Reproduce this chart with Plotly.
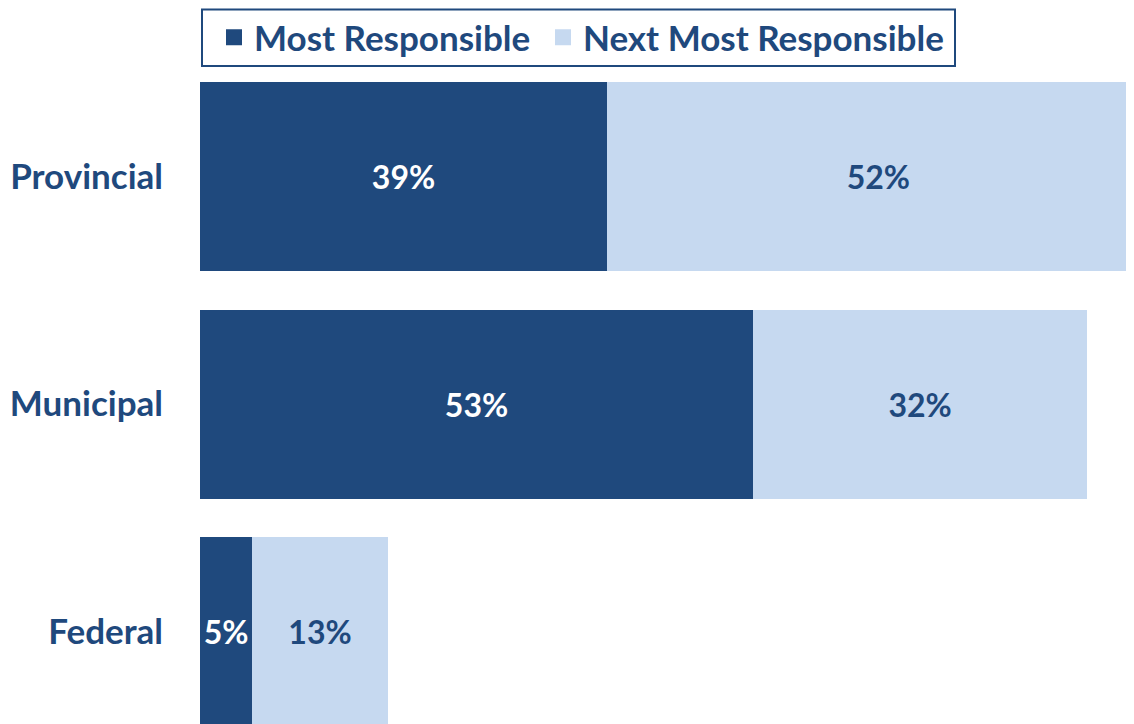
import plotly.graph_objects as go

categories = ["Federal", "Municipal", "Provincial"]
most_responsible = [5, 53, 39]
next_most_responsible = [13, 32, 52]
series_names = ["Most Responsible", "Next Most Responsible"]

DARK = "#1F497D"
LIGHT = "#C6D9F0"
FONT = "Lato"

# the page body has an 8px margin, so the figure is laid out 8px smaller
W, H = 1126, 716

fig = go.Figure()
fig.add_trace(go.Bar(
    y=categories, x=most_responsible, orientation="h", name=series_names[0],
    marker=dict(color=DARK, line=dict(width=0)),
    text=[f"{v}%" for v in most_responsible], textposition="inside",
    insidetextanchor="middle", constraintext="none",
    textfont=dict(family=FONT, size=32, color="white", weight="bold"),
    showlegend=False, hoverinfo="skip",
))
fig.add_trace(go.Bar(
    y=categories, x=next_most_responsible, orientation="h", name=series_names[1],
    marker=dict(color=LIGHT, line=dict(width=0)),
    text=[f"{v}%" for v in next_most_responsible], textposition="inside",
    insidetextanchor="middle", constraintext="none",
    textfont=dict(family=FONT, size=32, color=DARK, weight="bold"),
    showlegend=False, hoverinfo="skip",
))
# legend entries (one per legend so the spacing can be matched)
for name, col, lg in zip(series_names, [DARK, LIGHT], ["legend", "legend2"]):
    fig.add_trace(go.Scatter(
        x=[None], y=[None], mode="markers", name=name,
        marker=dict(symbol="square", size=20, color=col),
        showlegend=True, legend=lg,
    ))

legend_style = dict(
    orientation="h", xref="container", yref="container",
    xanchor="left", y=1.0, yanchor="top",
    borderwidth=0, bgcolor="rgba(0,0,0,0)",
    font=dict(family=FONT, size=35, color=DARK, weight="bold"),
    itemsizing="trace",
)

fig.update_layout(
    width=W, height=H,
    margin=dict(l=192, r=0, t=55, b=0, pad=0, autoexpand=False),
    paper_bgcolor="white", plot_bgcolor="white",
    barmode="stack", bargap=0.17,
    font=dict(family=FONT, color=DARK),
    legend=dict(x=206 / W, **legend_style),
    legend2=dict(x=535 / W, **legend_style),
    xaxis=dict(range=[0, 89.5], visible=False, showgrid=False, zeroline=False),
    yaxis=dict(
        type="category", categoryorder="array", categoryarray=categories,
        range=[-0.4066, 2.5], showgrid=False, zeroline=False, automargin=False,
        showline=False, ticks="", ticklabelstandoff=36,
        tickfont=dict(family=FONT, size=35, color=DARK, weight="bold"),
    ),
    shapes=[dict(
        type="rect", xref="paper", yref="paper",
        x0=2 / 934, x1=755 / 934, y0=1 - 3 / 661, y1=1 + 53.5 / 661,
        line=dict(color=DARK, width=2), fillcolor="rgba(0,0,0,0)", layer="above",
    )],
)

fig.write_html("out.html")
